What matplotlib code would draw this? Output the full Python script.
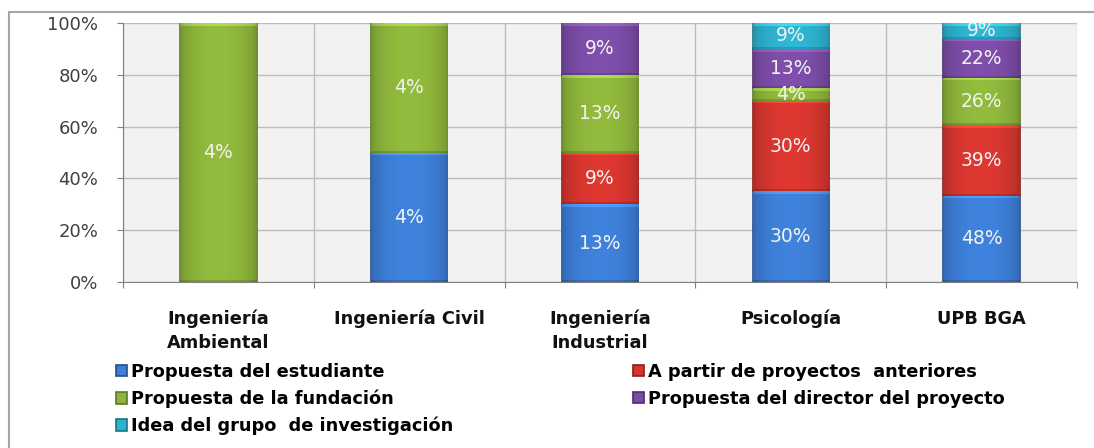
import matplotlib
matplotlib.use('Agg')
import matplotlib.pyplot as plt
from matplotlib.patches import Rectangle
from matplotlib.colors import to_rgb
import numpy as np

plt.rcParams['font.family'] = ['DejaVu Sans']

# categories and stacked shares (percent of each bar)
categories = ['Ingeniería\nAmbiental', 'Ingeniería Civil', 'Ingeniería\nIndustrial', 'Psicología', 'UPB BGA']
series = ['Propuesta del estudiante', 'A partir de proyectos  anteriores', 'Propuesta de la fundación',
          'Propuesta del director del proyecto', 'Idea del grupo  de investigación']
estudiante = [0, 50, 30, 35, 33.3]
anteriores = [0, 0, 20, 35, 27.3]
fundacion = [100, 50, 30, 5, 18.2]
director = [0, 0, 20, 15, 15.2]
grupo = [0, 0, 0, 10, 6.1]

# labels printed inside segments
lab_estudiante = ['', '4%', '13%', '30%', '48%']
lab_anteriores = ['', '', '9%', '30%', '39%']
lab_fundacion = ['4%', '4%', '13%', '4%', '26%']
lab_director = ['', '', '9%', '13%', '22%']
lab_grupo = ['', '', '', '9%', '9%']

colors = ['#3D7ED6', '#D6362F', '#8DB53B', '#7B4CA6', '#2DB1CC']
edges = ['#264F8A', '#8A1F1B', '#5A7A22', '#4B2D6B', '#1A7386']

values = [estudiante, anteriores, fundacion, director, grupo]
labels = [lab_estudiante, lab_anteriores, lab_fundacion, lab_director, lab_grupo]


def shaded(bar, color):
    # horizontal shading + thin light top edge, clipped to the bar
    base = np.array(to_rgb(color))
    u = np.linspace(0, 1, 60)
    f = 0.80 + 0.24 * np.sin(np.pi * u) ** 0.5
    rows = max(int(round(bar.get_height() * 2.59)), 4)
    img = np.clip(base[None, None, :] * f[None, :, None], 0, 1).repeat(rows, axis=0)
    img[:3] = np.clip(img[:3] * 1.12 + 0.04, 0, 1)
    img[-2:] = img[-2:] * 0.85
    x0, y0 = bar.get_x(), bar.get_y()
    im = ax.imshow(img, extent=(x0, x0 + bar.get_width(), y0, y0 + bar.get_height()),
                   aspect='auto', origin='upper', zorder=3.5, interpolation='bilinear')
    im.set_clip_path(bar)


fig = plt.figure(figsize=(10.94, 4.48), dpi=100)
fig.patches.append(Rectangle((0.0082, -0.05), 1.2, 1.0232, transform=fig.transFigure,
                             fill=False, edgecolor='#A6A6A6', linewidth=1.5))
ax = fig.add_axes([0.1124, 0.3705, 0.872, 0.5781])
ax.set_facecolor('#F2F2F2')

x = np.arange(len(categories))
bottom = np.zeros(len(categories))
handles = []
for vals, labs, c, ec, name in zip(values, labels, colors, edges, series):
    vals = np.array(vals, dtype=float)
    bars = ax.bar(x, vals, width=0.4, bottom=bottom, color=c, edgecolor=ec, linewidth=1.2,
                  label=name, zorder=3)
    handles.append(bars)
    for b in bars:
        if b.get_height() > 0:
            shaded(b, c)
    for xi, b, v, t in zip(x, bottom, vals, labs):
        if v > 0 and t:
            ax.text(xi, b + v / 2, t, ha='center', va='center', color='#F2F2F2',
                    fontsize=13.5, zorder=5)
    bottom += vals

ax.set_xlim(-0.5, len(categories) - 0.5)
ax.set_ylim(0, 100)
ax.set_yticks(np.arange(0, 101, 20))
ax.set_yticklabels([f'{v}%' for v in range(0, 101, 20)], color='#404040', fontsize=13)
ax.set_xticks(np.arange(-0.5, len(categories), 1.0))
ax.set_xticklabels([])
ax.set_xticks(x, minor=True)
ax.set_xticklabels(categories, minor=True, fontsize=12.8, fontweight='bold', color='#111111',
                   linespacing=1.38, va='top')
ax.tick_params(axis='x', which='minor', length=0, pad=20)
ax.tick_params(axis='x', which='major', length=4, color='#808080', direction='out')
ax.tick_params(axis='y', length=4.3, color='#808080', pad=13.5)
ax.grid(True, which='major', color='#BDBDBD', linewidth=1.0, zorder=0)
for s in ['top', 'right']:
    ax.spines[s].set_visible(False)
for s in ['left', 'bottom']:
    ax.spines[s].set_color('#808080')

# legend laid out as two columns, like the original
leg_kw = dict(loc='upper left', frameon=False, borderpad=0, borderaxespad=0,
              handlelength=0.62, handleheight=0.62, handletextpad=0.2, labelspacing=0.49,
              prop={'weight': 'bold', 'size': 12.8})
col1 = [0, 2, 4]
col2 = [1, 3]
fig.legend([handles[i] for i in col1], [series[i] for i in col1],
           bbox_to_anchor=(116 / 1094, 0.19), **leg_kw)
fig.legend([handles[i] for i in col2], [series[i] for i in col2],
           bbox_to_anchor=(633 / 1094, 0.19), **leg_kw)

plt.savefig('out.png', dpi=100)
